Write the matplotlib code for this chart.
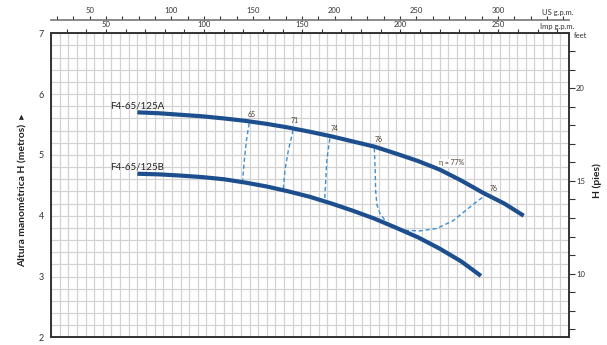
import numpy as np
import matplotlib
matplotlib.use("Agg")
import matplotlib.pyplot as plt

plt.rcParams['font.family'] = ['Lato', 'DejaVu Sans']

# Flow in l/min, head in metres
q_a = [300, 350, 400, 450, 500, 550, 600, 650, 700, 750, 800, 850, 900, 950, 1000, 1050, 1100, 1150, 1195]
h_a = [5.70, 5.685, 5.66, 5.635, 5.60, 5.56, 5.51, 5.45, 5.38, 5.305, 5.22, 5.135, 5.02, 4.90, 4.76, 4.58, 4.38, 4.20, 4.00]
q_b = [300, 350, 400, 450, 500, 550, 600, 650, 700, 750, 800, 850, 900, 950, 1000, 1050, 1096]
h_b = [4.69, 4.68, 4.66, 4.635, 4.60, 4.545, 4.48, 4.40, 4.31, 4.20, 4.08, 3.95, 3.80, 3.645, 3.46, 3.25, 3.01]

eff65_q = [559, 553, 548, 544]
eff65_h = [5.52, 5.25, 4.92, 4.59]
eff71_q = [661, 650, 642, 638]
eff71_h = [5.41, 5.08, 4.75, 4.43]
eff74_q = [746, 739, 734]
eff74_h = [5.27, 4.92, 4.26]
eff76_q = [849, 851, 852, 855, 862, 878, 897, 916, 955, 994, 1032, 1063, 1086, 1107]
eff76_h = [5.11, 4.75, 4.42, 4.18, 4.04, 3.88, 3.80, 3.76, 3.75, 3.79, 3.92, 4.10, 4.23, 4.34]

eff_labels = ["65", "71", "74", "76", "η = 77%", "76"]
eff_label_q = [565, 665, 756, 858, 1027, 1125]
eff_label_h = [5.66, 5.56, 5.44, 5.26, 4.87, 4.45]

curve_names = ["F4-65/125A", "F4-65/125B"]
curve_name_q = [238, 238]
curve_name_h = [5.80, 4.80]

W, H = 607, 345
fig = plt.figure(figsize=(W / 100, H / 100), dpi=100)
L, R, T, B = 51, 569, 33.3, 337.3
ax = fig.add_axes([L / W, 1 - B / H, (R - L) / W, (B - T) / H])
ax.set_xlim(100, 1300)
ax.set_ylim(2, 7)

ax.set_xticks(np.arange(100, 1301, 20))
ax.set_yticks(np.arange(2, 8, 1))
ax.set_yticks(np.arange(2, 7.01, 0.2), minor=True)
ax.grid(True, which='both', color='#d2d2d2', lw=0.9)
ax.set_axisbelow(True)
ax.tick_params(axis='x', bottom=False, labelbottom=False, top=False)
ax.tick_params(axis='y', which='both', length=0, pad=5, labelsize=6.5, colors='#333333')
for s in ax.spines.values():
    s.set_color('#333333')
    s.set_linewidth(1.4)

curve_col = '#1d4f8e'
eff_col = '#3b8fd2'
ax.plot(q_a, h_a, color=curve_col, lw=3.0, solid_capstyle='butt', solid_joinstyle='round', zorder=3)
ax.plot(q_b, h_b, color=curve_col, lw=3.0, solid_capstyle='butt', solid_joinstyle='round', zorder=3)
for qq, hh in [(eff65_q, eff65_h), (eff71_q, eff71_h), (eff74_q, eff74_h), (eff76_q, eff76_h)]:
    ax.plot(qq, hh, color=eff_col, lw=1.0, ls=(0, (3, 2)), zorder=2)

for t, x, y in zip(eff_labels, eff_label_q, eff_label_h):
    ax.text(x, y, t, fontsize=5, color='#4a3a2a', ha='center', va='center', zorder=4,
            bbox=dict(facecolor='white', edgecolor='none', pad=0.3) if 'η' in t else None)
for t, x, y in zip(curve_names, curve_name_q, curve_name_h):
    ax.text(x, y, t, fontsize=7, color='#222222', ha='left', va='center')

# Secondary axes
lpm_us = 0.264172
lpm_imp = 0.219969
imp = ax.secondary_xaxis('top', functions=(lambda x: x * lpm_imp, lambda x: x / lpm_imp))
imp.set_xticks(np.arange(50, 251, 50))
imp.set_xticks(np.arange(30, 281, 10), minor=True)
imp.tick_params(which='both', direction='out', length=3, width=0.8, pad=1, labelsize=5.5, colors='#333333')
imp.spines['top'].set_visible(False)

us = ax.secondary_xaxis(1 + (T - 20) / (B - T), functions=(lambda x: x * lpm_us, lambda x: x / lpm_us))
us.set_xticks(np.arange(50, 301, 50))
us.set_xticks(np.arange(30, 341, 10), minor=True)
us.tick_params(which='both', direction='out', length=3, width=0.8, pad=1, labelsize=5.5, colors='#333333')
us.spines['top'].set_color('#777777')
us.spines['top'].set_linewidth(1.2)

ft = 3.28084
rax = ax.secondary_yaxis('right', functions=(lambda y: y * ft, lambda y: y / ft))
rax.set_yticks([10, 15, 20])
rax.set_yticks(np.arange(7, 23, 1), minor=True)
rax.tick_params(which='both', direction='out', length=4, width=0.8, pad=1, labelsize=5.5, colors='#333333')
rax.spines['right'].set_visible(False)

fig.text(573 / W, 1 - 12.7 / H, 'US g.p.m.', fontsize=5.5, ha='right', va='center', color='#333333')
fig.text(574 / W, 1 - 26.7 / H, 'Imp g.p.m.', fontsize=5.5, ha='right', va='center', color='#333333')
fig.text(574 / W, 1 - 36 / H, 'feet', fontsize=5.5, ha='left', va='center', color='#333333')

fig.text(23 / W, 1 - 190 / H, 'Altura manométrica H (metros)  ▸', rotation=90, fontsize=7.5,
         fontweight='bold', ha='center', va='center', color='#222222')
fig.text(597 / W, 1 - 181 / H, 'H (pies)', rotation=90, fontsize=7.5,
         fontweight='bold', ha='center', va='center', color='#222222')

fig.savefig('out.png', dpi=100)
